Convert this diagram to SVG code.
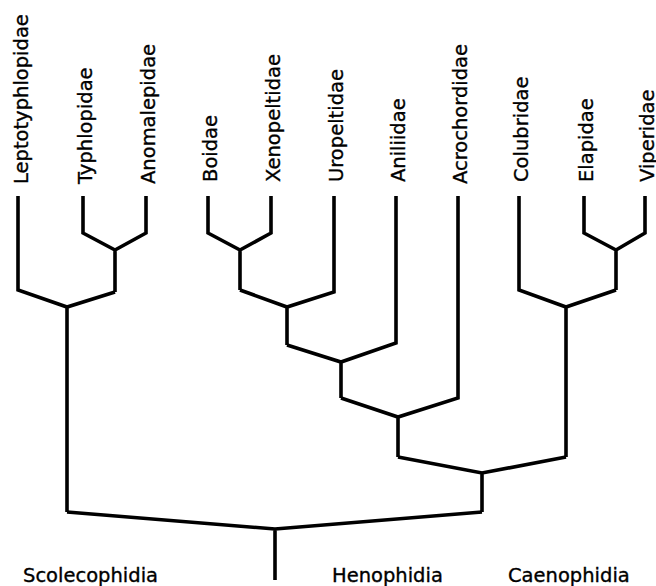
<svg xmlns="http://www.w3.org/2000/svg" width="656" height="586" viewBox="0 0 656 586">
<style>
.e{fill:none;stroke:#000;stroke-width:3.6;stroke-linejoin:miter;stroke-linecap:butt}
.t{font-family:"DejaVu Sans",sans-serif;font-size:19.5px;fill:#000;stroke:#000;stroke-width:0.35}
</style>
<rect width="656" height="586" fill="#fff"/>
<g id="connectors">
<path class="e" d="M83,196V233L115,250L146,233V196M115,250V292"/>
<path class="e" d="M18,196V290L67,307L115,292M67,307V512"/>
<path class="e" d="M208,196V233L240,250L271,233V196M240,250V290"/>
<path class="e" d="M240,290L287,307L334,292V196M287,307V345"/>
<path class="e" d="M287,345L341,362L396,343V196M341,362V398"/>
<path class="e" d="M341,398L398,417L458,398V196M398,417V457"/>
<path class="e" d="M584,196V233L616,250L645,233V196M616,250V290"/>
<path class="e" d="M519,196V290L566,307L616,290M566,307V457"/>
<path class="e" d="M398,457L482,473L566,457M482,473V512"/>
<path class="e" d="M67,512L275,529L482,512M275,529V580"/>
</g>
<g id="leptotyphlopidae"><text class="t" transform="translate(28,184) rotate(-90)">Leptotyphlopidae</text></g>
<g id="typhlopidae"><text class="t" transform="translate(92,184) rotate(-90)">Typhlopidae</text></g>
<g id="anomalepidae"><text class="t" transform="translate(155,184) rotate(-90)">Anomalepidae</text></g>
<g id="boidae"><text class="t" transform="translate(217,182) rotate(-90)">Boidae</text></g>
<g id="xenopeltidae"><text class="t" transform="translate(280,182) rotate(-90)">Xenopeltidae</text></g>
<g id="uropeltidae"><text class="t" transform="translate(343,182) rotate(-90)">Uropeltidae</text></g>
<g id="aniliidae"><text class="t" transform="translate(405,182) rotate(-90)">Aniliidae</text></g>
<g id="acrochordidae"><text class="t" transform="translate(467,184) rotate(-90)">Acrochordidae</text></g>
<g id="colubridae"><text class="t" transform="translate(528,182) rotate(-90)">Colubridae</text></g>
<g id="elapidae"><text class="t" transform="translate(593,182) rotate(-90)">Elapidae</text></g>
<g id="viperidae"><text class="t" transform="translate(654,182) rotate(-90)">Viperidae</text></g>
<g id="scolecophidia"><text class="t" x="23" y="582">Scolecophidia</text></g>
<g id="henophidia"><text class="t" x="332" y="582">Henophidia</text></g>
<g id="caenophidia"><text class="t" x="508" y="582">Caenophidia</text></g>
</svg>
